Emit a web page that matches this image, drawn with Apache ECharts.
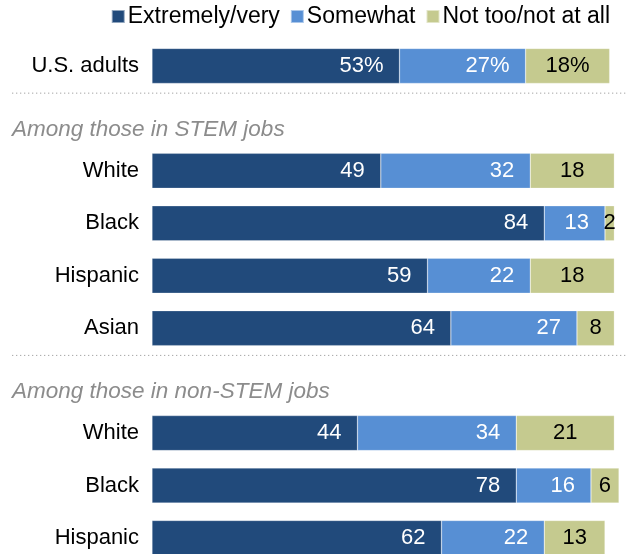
<!DOCTYPE html>
<html>
<head>
<meta charset="utf-8">
<script src="https://cdn.jsdelivr.net/npm/echarts@6/dist/echarts.min.js"></script>
<style>
  html, body { margin: 0; padding: 0; background: #fff; }
  #chart { width: 626px; height: 554px; }
</style>
</head>
<body>
<div id="chart"></div>
<script>
// Row labels ('' = section header slot)
const categories = ['U.S. adults', '', 'White', 'Black', 'Hispanic', 'Asian', '', 'White', 'Black', 'Hispanic'];
const seriesNames = ['Extremely/very', 'Somewhat', 'Not too/not at all'];
const extremely = [53, null, 49, 84, 59, 64, null, 44, 78, 62];
const somewhat  = [27, null, 32, 13, 22, 27, null, 34, 16, 22];
const notToo    = [18, null, 18, 2, 18, 8, null, 21, 6, 13];
const headerTexts = ['Among those in STEM jobs', 'Among those in non-STEM jobs'];
const headerSlots = [1, 6];

const FONT = '"Liberation Sans", Arial, sans-serif';
const colors = ['#214a7b', '#578fd4', '#c5ca8f'];

const chart = echarts.init(document.getElementById('chart'), null, { renderer: 'canvas' });

function labelFmt(p) {
  if (p.value == null) return '';
  return p.dataIndex === 0 ? p.value + '%' : String(p.value);
}

function makeSeries(name, data, idx) {
  return {
    name: name,
    type: 'bar',
    stack: 'total',
    data: data,
    barWidth: 35,
    itemStyle: { color: colors[idx], borderColor: 'rgba(255,255,255,0.5)', borderWidth: 0.5 },
    label: {
      show: true,
      position: idx === 2 ? 'inside' : 'insideRight',
      distance: 16,
      color: idx === 2 ? '#000' : '#fff',
      fontSize: 22,
      fontFamily: FONT,
      formatter: labelFmt
    },
    emphasis: { disabled: true },
    animation: false
  };
}

chart.setOption({
  animation: false,
  textStyle: { fontFamily: FONT },
  color: colors,
  legend: {
    data: seriesNames,
    right: 16,
    top: 5,
    padding: 0,
    icon: 'rect',
    itemWidth: 13,
    itemHeight: 13,
    itemGap: 10,
    textStyle: { fontSize: 23, color: '#000', fontFamily: FONT, padding: [0, 0, 0, -2] },
    selectedMode: false
  },
  grid: { left: 152, width: 467, top: 39.7, height: 524.5, containLabel: false, outerBoundsMode: 'none' },
  xAxis: { type: 'value', min: 0, max: 100, show: false },
  yAxis: {
    type: 'category',
    inverse: true,
    data: categories,
    axisLine: { show: false },
    axisTick: { show: false },
    splitLine: { show: false },
    axisLabel: { fontSize: 22, color: '#000', margin: 13, fontFamily: FONT }
  },
  series: [
    makeSeries(seriesNames[0], extremely, 0),
    makeSeries(seriesNames[1], somewhat, 1),
    makeSeries(seriesNames[2], notToo, 2)
  ]
});

// Section headers and dotted separators positioned via the axis scale
const graphics = [];
headerSlots.forEach((slot, i) => {
  const cPrev = chart.convertToPixel({ yAxisIndex: 0 }, slot - 1);
  const cThis = chart.convertToPixel({ yAxisIndex: 0 }, slot);
  const boundary = (cPrev + cThis) / 2;
  graphics.push({
    type: 'line',
    shape: { x1: 12, y1: boundary + 1, x2: 626, y2: boundary + 1 },
    style: { stroke: '#a6a6a6', lineWidth: 1, lineDash: [1.3, 2.7] },
    silent: true
  });
  graphics.push({
    type: 'text',
    x: 12,
    y: cThis + 11,
    style: {
      text: headerTexts[i],
      font: 'italic 22.5px ' + FONT,
      fill: '#8c8c8c',
      textAlign: 'left',
      textVerticalAlign: 'middle'
    },
    silent: true
  });
});
chart.setOption({ graphic: graphics });
</script>
</body>
</html>
